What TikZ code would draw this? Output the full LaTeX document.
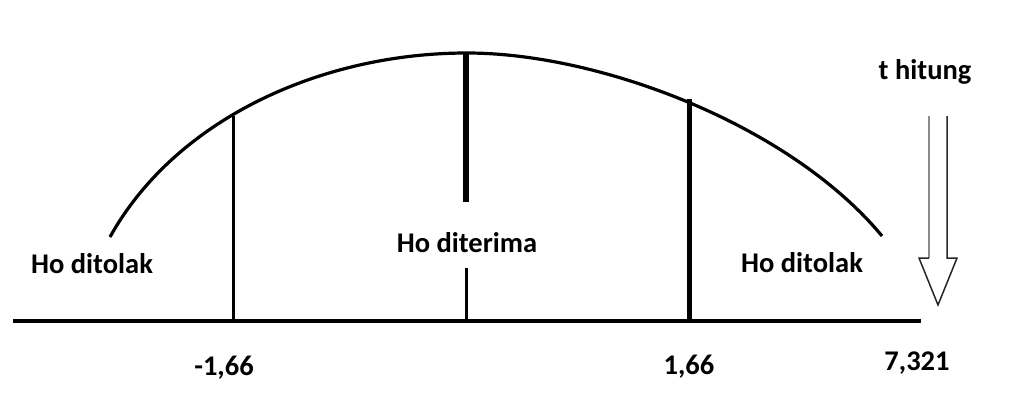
\documentclass[tikz,border=0pt]{standalone}
\usepackage{fontspec}
\setmainfont{Carlito}
\begin{document}
\begin{tikzpicture}[x=1pt,y=-1pt,
  lbl/.style={font=\fontsize{28.5}{32}\selectfont\bfseries, anchor=base, inner sep=0pt, text=black},
  thinline/.style={line width=3pt},
  thickline/.style={line width=5pt},
  curveline/.style={line width=3.2pt},
  hollow/.style={line width=1.5pt, draw=black!85}]
\useasboundingbox (0,0) rectangle (1016,410);
% axis
\coordinate (axL) at (13,321);
\coordinate (axR) at (921,321);
\draw[line width=3.4pt] (axL) -- (axR);
% curve
\coordinate (cvL) at (110,237);
\coordinate (cvP) at (467,53);
\coordinate (cvR) at (882,236);
\draw[curveline] (cvL) .. controls (175,120) and (320,53) .. (cvP)
                       .. controls (600,53) and (790,125) .. (cvR);
% verticals
\coordinate (lTop) at (233,116);
\coordinate (lBot) at (233,321);
\draw[thinline] (lTop) -- (lBot);
\coordinate (rTop) at (689,99);
\coordinate (rBot) at (689,321);
\draw[thickline] (rTop) -- (rBot);
\coordinate (cTop) at (466,54);
\coordinate (cMid) at (466,202);
\draw[line width=5.8pt] (cTop) -- (cMid);
\coordinate (cLow) at (466,268);
\coordinate (cBot) at (466,321);
\draw[thinline] (cLow) -- (cBot);
% labels
\node[lbl] (hoL) at (92,273) {Ho ditolak};
\node[lbl] (hoC) at (467,252) {Ho diterima};
\node[lbl] (hoR) at (802,272) {Ho ditolak};
\node[lbl] (nL) at (224,375) {-1,66};
\node[lbl] (nR) at (689,374) {1,66};
\node[lbl] (nT) at (917,370) {7,321};
\node[lbl] (th) at (925,79) {t hitung};
% hollow arrow
\coordinate (a1) at (929,116);
\coordinate (a2) at (929,258);
\coordinate (a3) at (919,258);
\coordinate (a4) at (938,305);
\coordinate (a5) at (957,258);
\coordinate (a6) at (947,258);
\coordinate (a7) at (947,116);
\draw[hollow, draw=black!45] (a1) -- (a2);
\draw[hollow, line join=miter] (a2) -- (a3) -- (a4) -- (a5) -- (a6) -- (a7);
\end{tikzpicture}
\end{document}
